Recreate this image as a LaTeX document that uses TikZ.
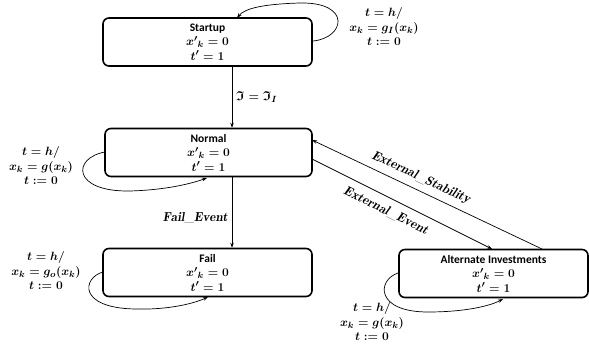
\documentclass[tikz,border=0pt]{standalone}
\usepackage{amsmath,amssymb}
\usepackage{fontspec}
\newfontfamily\titlefont{Carlito}
\usetikzlibrary{arrows.meta}
\tikzset{
  stbox/.style={draw, line width=1.6pt, rounded corners=6pt, minimum width=#1,
    minimum height=48pt, align=center, inner sep=0pt,
    font=\fontsize{13}{14.5}\selectfont\boldmath},
  edge/.style={line width=0.7pt, -{Stealth[length=5pt,width=3.5pt]}},
  lbl/.style={font=\fontsize{13}{14.5}\selectfont\boldmath, align=center, inner sep=0pt}
}
\newcommand{\boxtext}[1]{{\titlefont\bfseries\fontsize{11.5}{13}\selectfont #1}\\ ${x'}_{k}=0$\\ $t'=1$}
\begin{document}
\begin{tikzpicture}[x=1pt,y=-1pt]
\useasboundingbox (0,0) rectangle (589,352);

\node[stbox=209pt] (S) at (207.5,42) {\boxtext{Startup}};
\node[stbox=207pt] (N) at (208.5,152.5) {\boxtext{Normal}};
\node[stbox=209pt] (F) at (207.5,272.5) {\boxtext{Fail}};
\node[stbox=189pt] (A) at (493.5,273.5) {\boxtext{Alternate Investments}};

% vertical transitions
\draw[edge] (S.south -| 232,0) -- (N.north -| 232,0);
\draw[edge] (N.south -| 232,0) -- (F.north -| 232,0);
\node[lbl, anchor=west] (l1) at (236,97) {$\mathfrak{I}=\mathfrak{I}_{I}$};
\node[lbl, anchor=east] (l2) at (228,218) {$\mathit{Fail\_Event}$};

% diagonal transitions
\coordinate (ne) at (312,159);
\coordinate (ns) at (312,140);
\coordinate (ae) at (492,249);
\coordinate (as) at (542,249);
\draw[edge] (ne) -- (ae);
\draw[edge] (as) -- (ns);
\node[lbl, rotate=-25.2] (l3) at (421,178) {$\mathit{External\_Stability}$};
\node[lbl, rotate=-26.3] (l4) at (386,211) {$\mathit{External\_Event}$};

% self loops
\coordinate (s1) at (313,41);
\coordinate (s2) at (237,18);
\draw[edge] (s1) .. controls (345,38) and (352,2) .. (300,3) .. controls (265,4) and (245,8) .. (s2);
\node[lbl] (ls) at (384,27) {$t=h/$\\ $x_{k}=g_{I}(x_{k})$\\ $t:=0$};

\coordinate (n1) at (105,152);
\coordinate (n2) at (207,178);
\draw[edge] (n1) .. controls (72,158) and (72,192) .. (130,191) .. controls (165,190) and (190,184) .. (n2);
\node[lbl] (ln) at (41,166) {$t=h/$\\ $x_{k}=g(x_{k})$\\ $t:=0$};

\coordinate (f1) at (103,272);
\coordinate (f2) at (208,297);
\draw[edge] (f1) .. controls (82,278) and (78,308) .. (135,309) .. controls (170,310) and (195,303) .. (f2);
\node[lbl] (lf) at (46,271) {$t=h/$\\ $x_{k}=g_{o}(x_{k})$\\ $t:=0$};

\coordinate (a1) at (398,273);
\coordinate (a2) at (503,299);
\draw[edge] (a1) .. controls (377,280) and (375,312) .. (428,312) .. controls (465,312) and (490,306) .. (a2);
\node[lbl] (la) at (372,322) {$t=h/$\\ $x_{k}=g(x_{k})$\\ $t:=0$};
\end{tikzpicture}
\end{document}
